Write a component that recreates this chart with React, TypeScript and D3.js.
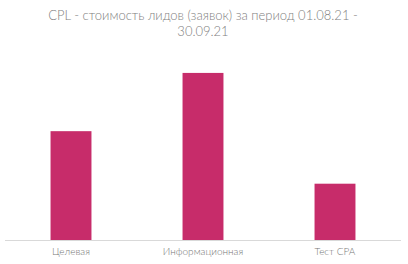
import React from "react";
import * as d3 from "d3";

const categories = ["Целевая", "Информационная", "Тест CPA"];
const values = [1150, 1760, 600];
const titleLines = ["CPL - стоимость лидов (заявок) за период 01.08.21 -", "30.09.21"];

const W = 408;
const H = 264;

export default function App() {
  const x = d3.scaleBand<string>().domain(categories).range([5, 401]).paddingInner(0.69).paddingOuter(0.345);
  const y = d3.scaleLinear().domain([0, 2000]).range([241, 50]);
  const font = "Lato, 'Open Sans', sans-serif";
  return (
    <svg width={W} height={H} style={{ position: "absolute", left: 0, top: 0, background: "#fff" }}>
      <text x={203} y={20} textAnchor="middle" fontFamily={font} fontWeight={300} fontSize={13} fill="#808080">
        {titleLines.map((t, i) => (
          <tspan key={i} x={203} dy={i === 0 ? 0 : 16}>{t}</tspan>
        ))}
      </text>
      {categories.map((c, i) => (
        <rect key={c} x={x(c)} y={y(values[i])} width={x.bandwidth()} height={y(0) - y(values[i])} fill="#c72c6a" />
      ))}
      <line x1={5} x2={401} y1={240.5} y2={240.5} stroke="#d9d9d9" strokeWidth={1} />
      {categories.map((c) => (
        <text key={c} x={(x(c) as number) + x.bandwidth() / 2} y={255} textAnchor="middle" fontFamily={font} fontWeight={300} fontSize={10} fill="#777">
          {c}
        </text>
      ))}
    </svg>
  );
}
